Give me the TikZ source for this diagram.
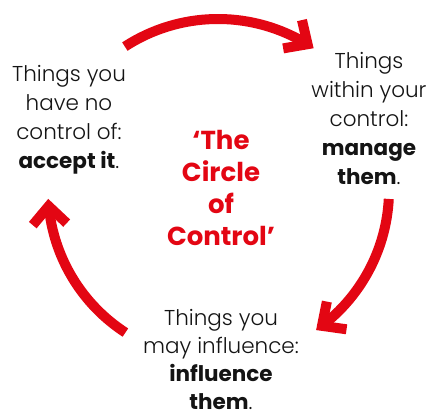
\documentclass[tikz,border=0pt]{standalone}
\usepackage{fontspec}
\setmainfont{Poppins}[UprightFont=* Light,BoldFont=* Bold]
\usetikzlibrary{arrows.meta,bending}
\definecolor{ctrlred}{RGB}{227,6,19}
\definecolor{ink}{RGB}{20,20,20}
\begin{document}
\begin{tikzpicture}[x=1pt,y=1pt,
  cyclearrow/.style={draw=ctrlred,line width=10pt,
    -{Straight Barb[length=18pt,width=34pt,line width=0pt 1]}},
  label/.style={align=center,text=ink,font=\fontsize{21.5}{29}\selectfont},
  title/.style={align=center,text=ctrlred,font=\bfseries\fontsize{26}{32}\selectfont}]
\useasboundingbox (0,0) rectangle (435,419);
\coordinate (c) at (218,229);

% the three stages around the circle
\node[label] (nocontrol) at (69,299.5) {Things you\\have no\\control of:\\\textbf{accept it}.};
\node[label] (within) at (369,300) {Things\\within your\\control:\\\textbf{manage}\\\textbf{them}.};
\node[label,font=\fontsize{21.5}{28}\selectfont] (influence) at (221,59) {Things you\\may influence:\\\textbf{influence}\\\textbf{them}.};

% heading in the middle
\node[title] (heading) at (221,231) {‘The\\Circle\\of\\Control’};

% clockwise arrows joining the stages
\draw[cyclearrow] (c) ++(123:171) arc[start angle=123,end angle=56,radius=171];
\draw[cyclearrow] (c) ++(-3:171) arc[start angle=-3,end angle=-55,radius=171];
\draw[cyclearrow] (c) ++(237:170) arc[start angle=237,end angle=183,radius=170];
\end{tikzpicture}
\end{document}
